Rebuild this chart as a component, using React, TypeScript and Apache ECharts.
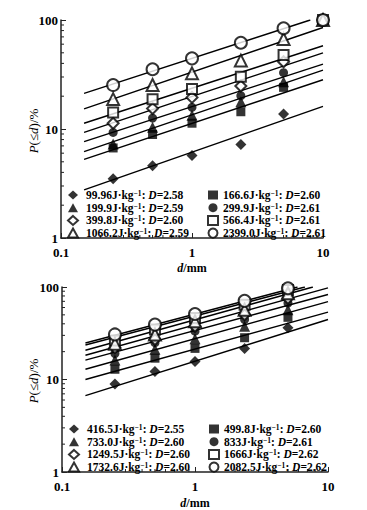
import React, { useEffect, useRef } from "react";
import * as echarts from "echarts";

// ---- Data ----
const xTop = [0.25, 0.5, 1, 2.36, 5, 10];
const xBottom = [0.25, 0.5, 1, 2.36, 5];

const topEnergy = ["99.96", "166.6", "199.9", "299.9", "399.8", "566.4", "1066.2", "2399.0"];
const topD = ["2.58", "2.60", "2.59", "2.61", "2.60", "2.61", "2.59", "2.61"];
const top9996 = [3.5, 4.6, 5.7, 7.2, 13.7, 100];
const top1666 = [6.7, 8.9, 11.3, 14.4, 24.1, 100];
const top1999 = [7.3, 10.4, 13.4, 17.8, 27.2, 100];
const top2999 = [9.3, 12.6, 15.8, 20.2, 32.9, 100];
const top3998 = [11.3, 15.4, 19.5, 24.8, 41.4, 100];
const top5664 = [14.2, 18.7, 23.3, 30.2, 47.7, 100];
const top10662 = [18.8, 25.3, 32.4, 42.4, 67, 100];
const top23990 = [25.3, 35.3, 44.5, 61.9, 84, 100];
const topValues = [top9996, top1666, top1999, top2999, top3998, top5664, top10662, top23990];
const fitStartX = 0.15;
const topFitStart = [2.76, 5.27, 6.2, 7.65, 9.3, 11.3, 15.3, 21.2];
const topFitEnd = [16.1, 28.3, 34.7, 39.4, 50, 58, 85.4, 100];
const topFitEndX = [10, 10, 10, 10, 10, 10, 10, 8.0];

const bottomEnergy = ["416.5", "499.8", "733.0", "833", "1249.5", "1666", "1732.6", "2082.5"];
const bottomD = ["2.55", "2.60", "2.60", "2.61", "2.60", "2.62", "2.60", "2.62"];
const bot4165 = [8.95, 12.2, 15.7, 21.7, 36.2];
const bot4998 = [12.9, 17.0, 21.7, 28.3, 47];
const bot7330 = [16.2, 21.2, 27.6, 37.6, 56.7];
const bot833 = [19.1, 25, 33.3, 44.4, 67];
const bot12495 = [22.1, 27.1, 37.6, 50.2, 75.7];
const bot1666 = [26.4, 34.7, 46.2, 64.2, 92.9];
const bot17326 = [24.4, 30.7, 42.5, 56.7, 85.7];
const bot20825 = [30.7, 39.2, 51.1, 70.8, 96.9];
const bottomValues = [bot4165, bot4998, bot7330, bot833, bot12495, bot1666, bot17326, bot20825];
const botFitStart = [6.7, 10, 12.9, 16.2, 18.3, 23.6, 20.7, 24.8];
const botFitEnd = [44.5, 53.5, 69.5, 83, 98, 100, 100, 100];
const botFitEndX = [10, 10, 10, 10, 10, 6.7, 7.7, 5.9];

const minorMultipliers = [2, 3, 4, 5, 6, 7, 8, 9];
const xDecades = [0.1, 1];
const yDecades = [1, 10];

// marker styles per series order
const symbols = ["diamond", "rect", "triangle", "circle", "diamond", "rect", "triangle", "circle"];
const openFlags = [false, false, false, false, true, true, true, true];
const symbolSizes = [11, 9, 11, 9, 11, 10, 12, 12];

const FONT = "'Liberation Serif', 'Times New Roman', serif";

function App() {
  const ref = useRef<HTMLDivElement>(null);
  useEffect(() => {
    if (!ref.current) return;
    const chart = echarts.init(ref.current, null, { renderer: "svg" });

    const grids = [
      { left: 61, top: 20, width: 262, height: 218 },
      { left: 62, top: 287, width: 266, height: 187 },
    ];

    const mkX = (gi: number) => ({
      type: "log",
      logBase: 10,
      gridIndex: gi,
      min: 0.1,
      max: 10,
      name: "{i|d}{n|/mm}",
      nameLocation: "middle",
      nameGap: gi === 0 ? 24 : 25,
      nameTextStyle: {
        rich: {
          i: { fontFamily: FONT, fontSize: 12, fontStyle: "italic", fontWeight: "bold", color: "#000" },
          n: { fontFamily: FONT, fontSize: 12, fontWeight: "bold", color: "#000" },
        },
      },
      axisLine: { show: true, lineStyle: { color: "#222", width: 1.5 } },
      axisTick: { show: true, inside: true, length: 5, lineStyle: { color: "#222", width: 1 } },
      minorTick: { show: false },
      splitLine: { show: false },
      axisLabel: { fontFamily: FONT, fontSize: 13, fontWeight: "bold", color: "#000", margin: 8, lineHeight: 12 },
    });
    const mkY = (gi: number) => ({
      type: "log",
      logBase: 10,
      gridIndex: gi,
      min: 1,
      max: 100,
      axisLine: { show: true, lineStyle: { color: "#222", width: 1.5 } },
      axisTick: { show: true, inside: true, length: 5, lineStyle: { color: "#222", width: 1 } },
      splitLine: { show: false },
      axisLabel: { fontFamily: FONT, fontSize: 13, fontWeight: "bold", color: "#000", margin: 3, lineHeight: 10 },
    });

    const series: any[] = [];
    const addSet = (
      gi: number,
      xs: number[],
      values: number[][],
      energies: string[],
      fitStart: number[],
      fitEnd: number[],
      fitEndX: number[]
    ) => {
      values.forEach((_, i) => {
        series.push({
          type: "line",
          xAxisIndex: gi,
          yAxisIndex: gi,
          data: [
            [fitStartX, fitStart[i]],
            [fitEndX[i], fitEnd[i]],
          ],
          symbol: "none",
          silent: true,
          lineStyle: { color: "#000", width: 1.4 },
        });
      });
      values.forEach((vals, i) => {
        const open = openFlags[i];
        series.push({
          type: "scatter",
          name: energies[i],
          xAxisIndex: gi,
          yAxisIndex: gi,
          symbol: symbols[i],
          symbolSize: symbolSizes[i],
          data: vals.map((v, k) => [xs[k], v]),
          itemStyle: open
            ? { color: "#fff", borderColor: "#000", borderWidth: 2 }
            : { color: "#000", borderColor: "#000", borderWidth: 0 },
          z: 3,
        });
      });
      const xm: number[][] = [];
      xDecades.forEach((d) => minorMultipliers.forEach((m) => xm.push([d * m, 1])));
      const ym: number[][] = [];
      yDecades.forEach((d) => minorMultipliers.forEach((m) => ym.push([0.1, d * m])));
      series.push({
        type: "custom",
        xAxisIndex: gi,
        yAxisIndex: gi,
        silent: true,
        clip: false,
        data: xm,
        renderItem: (params: any, api: any) => {
          const p = api.coord([api.value(0), api.value(1)]);
          return {
            type: "line",
            shape: { x1: p[0], y1: p[1], x2: p[0], y2: p[1] - 3 },
            style: { stroke: "#222", lineWidth: 1 },
          };
        },
      });
      series.push({
        type: "custom",
        xAxisIndex: gi,
        yAxisIndex: gi,
        silent: true,
        clip: false,
        data: ym,
        renderItem: (params: any, api: any) => {
          const p = api.coord([api.value(0), api.value(1)]);
          return {
            type: "line",
            shape: { x1: p[0], y1: p[1], x2: p[0] + 3, y2: p[1] },
            style: { stroke: "#222", lineWidth: 1 },
          };
        },
      });
    };
    addSet(0, xTop, topValues, topEnergy, topFitStart, topFitEnd, topFitEndX);
    addSet(1, xBottom, bottomValues, bottomEnergy, botFitStart, botFitEnd, botFitEndX);

    const dMap: Record<string, string> = {};
    topEnergy.forEach((e, i) => (dMap[e] = topD[i]));
    bottomEnergy.forEach((e, i) => (dMap[e] = bottomD[i]));

    const rich = {
      n: { fontFamily: FONT, fontSize: 11.5, fontWeight: "bold", color: "#000", lineHeight: 11 },
      s: { fontFamily: FONT, fontSize: 7.5, fontWeight: "bold", color: "#000", verticalAlign: "top", lineHeight: 8 },
      i: { fontFamily: FONT, fontSize: 11.5, fontWeight: "bold", fontStyle: "italic", color: "#000", lineHeight: 11 },
    };
    const mkLegend = (names: string[], left: number, top: number, padLeft: number) => ({
      data: names,
      orient: "vertical",
      left,
      top,
      itemWidth: 10,
      itemHeight: 9,
      itemGap: 0.7,
      padding: 0,
      selectedMode: false,
      formatter: (name: string) => `{n|${name}J·kg}{s|−1}{n|: }{i|D}{n|=${dMap[name]}}`,
      textStyle: { rich, padding: [0, 0, 0, padLeft] },
    });

    const ti = (a: number[]) => a.map((i) => topEnergy[i]);
    const bi = (a: number[]) => a.map((i) => bottomEnergy[i]);

    const yNameRich = {
      i: { fontFamily: FONT, fontSize: 13, fontStyle: "italic", fill: "#000" },
      n: { fontFamily: FONT, fontSize: 13, fill: "#000" },
    };
    const yName = (cy: number) => ({
      type: "text",
      x: 33,
      y: cy,
      rotation: Math.PI / 2,
      style: {
        text: "{i|P}{n|(≤}{i|d}{n|)/%}",
        rich: yNameRich,
        align: "center",
        verticalAlign: "middle",
        fill: "#000",
      },
    });

    chart.setOption({
      animation: false,
      backgroundColor: "#fff",
      grid: grids,
      xAxis: [mkX(0), mkX(1)],
      yAxis: [mkY(0), mkY(1)],
      legend: [
        mkLegend(ti([0, 2, 4, 6]), 67, 189, 3),
        mkLegend(ti([1, 3, 5, 7]), 207, 189, 0),
        mkLegend(bi([0, 2, 4, 6]), 68, 423, 3),
        mkLegend(bi([1, 3, 5, 7]), 208, 423, 0),
      ],
      graphic: [yName(131), yName(381)],
      series,
    });
    return () => chart.dispose();
  }, []);
  return (
    <div
      ref={ref}
      style={{ position: "fixed", left: 0, top: 0, width: 367, height: 510, background: "#fff" }}
    />
  );
}

export default App;
